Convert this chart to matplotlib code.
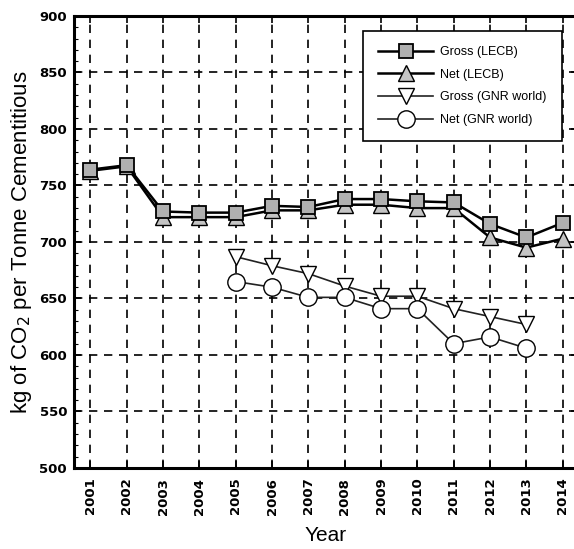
"""CO2 intensity per tonne of cementitious material, LECB vs GNR world."""

import matplotlib
matplotlib.use("Agg")
import matplotlib.pyplot as plt
from matplotlib.ticker import MultipleLocator

# ---------------------------------------------------------------------------
# Data
# ---------------------------------------------------------------------------

YEARS = [2001, 2002, 2003, 2004, 2005, 2006, 2007,
         2008, 2009, 2010, 2011, 2012, 2013, 2014]
GROSS_LECB = [764, 768, 727, 726, 726, 732, 731, 738, 738, 736, 735, 716, 704, 717]
NET_LECB = [763, 767, 722, 722, 722, 728, 728, 733, 733, 730, 730, 704, 695, 703]

GNR_YEARS = [2005, 2006, 2007, 2008, 2009, 2010, 2011, 2012, 2013]
GROSS_GNR = [687, 679, 672, 661, 652, 652, 641, 634, 627]
NET_GNR = [665, 660, 651, 651, 641, 641, 610, 616, 606]

LABELS = ["Gross (LECB)", "Net (LECB)", "Gross (GNR world)", "Net (GNR world)"]

plt.rcParams["font.family"] = ["Liberation Sans", "DejaVu Sans"]

# ---------------------------------------------------------------------------
# Figure — right spine sits just past the image edge, as in the source scan
# ---------------------------------------------------------------------------

fig = plt.figure(figsize=(5.74, 5.49), dpi=100)
ax = fig.add_axes([74 / 574, 1 - 468 / 549, 504 / 574, 452 / 549])

ax.plot(YEARS, GROSS_LECB, color="black", lw=1.8, marker="s", ms=10,
        mfc="#b0b0b0", mec="black", mew=1.3, label=LABELS[0], zorder=4)
ax.plot(YEARS, NET_LECB, color="black", lw=1.8, marker="^", ms=11,
        mfc="#c4c4c4", mec="black", mew=1.0, label=LABELS[1], zorder=3)
ax.plot(GNR_YEARS, GROSS_GNR, color="#222222", lw=1.2, marker="v", ms=11,
        mfc="white", mec="black", mew=1.0, label=LABELS[2], zorder=3)
ax.plot(GNR_YEARS, NET_GNR, color="#222222", lw=1.2, marker="o", ms=12.5,
        mfc="white", mec="black", mew=1.0, label=LABELS[3], zorder=3)

ax.set_xlim(2000.55, 2014.42)
ax.set_ylim(500, 900)
ax.set_xticks(YEARS)
ax.set_xticklabels([str(y) for y in YEARS], rotation=90, fontsize=9.5,
                   fontweight="bold", family="DejaVu Sans")
ax.yaxis.set_major_locator(MultipleLocator(50))
ax.yaxis.set_minor_locator(MultipleLocator(10))
for lab in ax.get_yticklabels():
    lab.set_fontsize(9.5)
    lab.set_fontweight("bold")
    lab.set_family("DejaVu Sans")

ax.tick_params(which="both", direction="in", top=True, right=True)
ax.tick_params(which="major", length=5, width=1.2)
ax.tick_params(which="minor", length=3, width=0.8)
ax.tick_params(axis="x", pad=7)
ax.tick_params(axis="y", pad=5)
ax.grid(True, which="major", color="black", linestyle=(0, (5, 4)), lw=1.2)

for sp in ax.spines.values():
    sp.set_linewidth(2.2)

ax.set_ylabel("kg of CO$_2$ per Tonne Cementitious", fontsize=16, labelpad=4)
ax.set_xlabel("Year", fontsize=15, labelpad=8)

leg = ax.legend(loc="upper left", bbox_to_anchor=((363 - 74) / 504, (468 - 31) / 452),
                fontsize=9, handlelength=4.4, handletextpad=0.6,
                labelspacing=0.85, borderpad=1.2, borderaxespad=0,
                fancybox=False, framealpha=1, edgecolor="black")
leg.get_frame().set_linewidth(1.2)

fig.savefig("out.png", dpi=100)
